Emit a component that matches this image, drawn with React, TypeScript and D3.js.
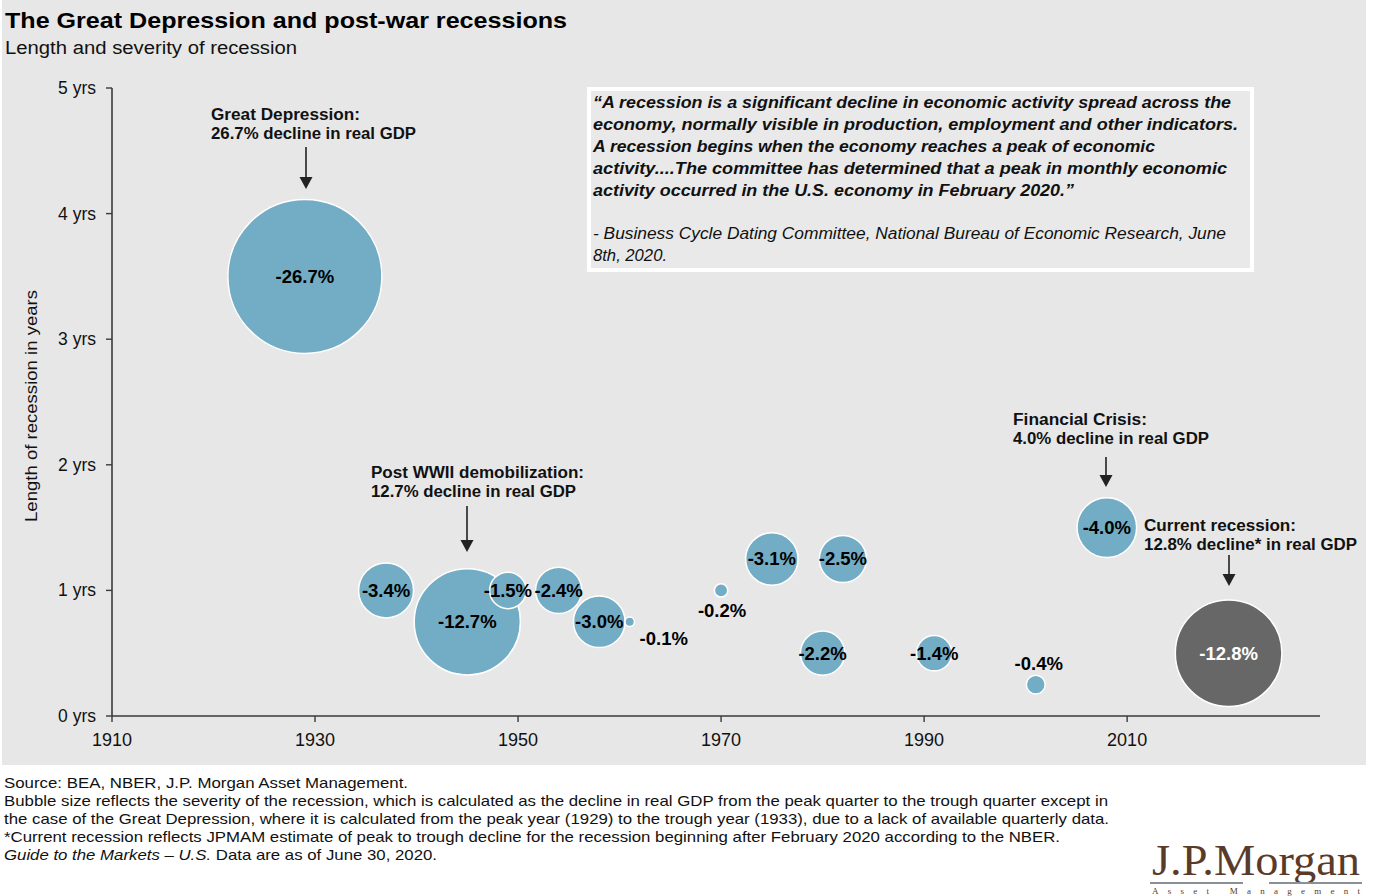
import React from "react";
import * as d3 from "d3";

// ---- data ----
const years = [1929, 1937, 1945, 1949, 1954, 1958, 1961, 1970, 1975, 1980, 1982, 1991, 2001, 2008, 2020];
const lengths = [3.5, 1, 0.75, 1, 1, 0.75, 0.75, 1, 1.25, 0.5, 1.25, 0.5, 0.25, 1.5, 0.5];
const declines = [26.7, 3.4, 12.7, 1.5, 2.4, 3.0, 0.1, 0.2, 3.1, 2.2, 2.5, 1.4, 0.4, 4.0, 12.8];
const currentYear = 2020;
const xTicks = [1910, 1930, 1950, 1970, 1990, 2010];
const yTicks = [0, 1, 2, 3, 4, 5];

const quoteLines = [
  "\u201CA recession is a significant decline in economic activity spread across the",
  "economy, normally visible in production, employment and other indicators.",
  "A recession begins when the economy reaches a peak of economic",
  "activity....The committee has determined that a peak in monthly economic",
  "activity occurred in the U.S. economy in February 2020.\u201D",
];
const quoteSource = [
  "- Business Cycle Dating Committee, National Bureau of Economic Research, June",
  "8th, 2020.",
];
const footnotes = [
  "Source: BEA, NBER, J.P. Morgan Asset Management.",
  "Bubble size reflects the severity of the recession, which is calculated as the decline in real GDP from the peak quarter to the trough quarter except in",
  "the case of the Great Depression, where it is calculated from the peak year (1929) to the trough year (1933), due to a lack of available quarterly data.",
  "*Current recession reflects JPMAM estimate of peak to trough decline for the recession beginning after February 2020 according to the NBER.",
];

const annotations = [
  { year: 1929, lines: ["Great Depression:", "26.7% decline in real GDP"] },
  { year: 1945, lines: ["Post WWII demobilization:", "12.7% decline in real GDP"] },
  { year: 2008, lines: ["Financial Crisis:", "4.0% decline in real GDP"] },
  { year: 2020, lines: ["Current recession:", "12.8% decline* in real GDP"] },
];

// ---- layout ----
const W = 1378;
const H = 896;
const FONT = "Liberation Sans, Arial, Helvetica, sans-serif";
const BG = "#e7e7e7";
const BLUE = "#73adc5";
const GREY_BUBBLE = "#676767";
const AXIS = "#3a3a3a";

const x = d3.scaleLinear().domain([1910, 2029]).range([112, 1320]);
const y = d3.scaleLinear().domain([0, 5]).range([716, 88]);
const r = d3.scaleSqrt().domain([0, 26.7]).range([0, 77]);

// label offsets for tiny bubbles (layout)
const labelOffsets: Record<number, [number, number]> = {
  1961: [34, 17],
  1970: [1, 20],
  2001: [3, -21],
};

// annotation layout: text x, baselines, arrow start/end
const annLayout: Record<number, { tx: number; ty: number; w: [number, number]; ax: number; a0: number; a1: number }> = {
  1929: { tx: 211, ty: 120, w: [149, 205], ax: 306, a0: 147, a1: 189 },
  1945: { tx: 371, ty: 478, w: [213, 205], ax: 467, a0: 506, a1: 552 },
  2008: { tx: 1013, ty: 425, w: [134, 196], ax: 1106, a0: 457, a1: 487 },
  2020: { tx: 1144, ty: 531, w: [152, 213], ax: 1229, a0: 555, a1: 586 },
};

const quoteWidths = [638, 645, 562, 634, 481];
const sourceWidths = [633, 74];
const footWidths = [404, 1104, 1105, 1056];

function Arrow({ ax, a0, a1 }: { ax: number; a0: number; a1: number }) {
  return (
    <g>
      <line x1={ax} x2={ax} y1={a0} y2={a1 - 10} stroke="#222" strokeWidth={1.6} />
      <path d={`M${ax - 6.5},${a1 - 12} L${ax + 6.5},${a1 - 12} L${ax},${a1} Z`} fill="#222" />
    </g>
  );
}

export default function App() {
  const data = years.map((yr, i) => ({ yr, len: lengths[i], dec: declines[i] }));
  return (
    <svg
      width={W}
      height={H}
      viewBox={`0 0 ${W} ${H}`}
      style={{ position: "absolute", left: 0, top: 0, background: "#fff" }}
      fontFamily={FONT}
    >
      <rect x={0} y={0} width={W} height={H} fill="#ffffff" />
      <rect x={2} y={0} width={1364} height={765} fill={BG} />

      {/* title */}
      <text x={5} y={28} fontSize={22} fontWeight="bold" fill="#000" textLength={562} lengthAdjust="spacingAndGlyphs">
        The Great Depression and post-war recessions
      </text>
      <text x={5} y={54} fontSize={18} fill="#111" textLength={292} lengthAdjust="spacingAndGlyphs">
        Length and severity of recession
      </text>

      {/* quote box */}
      <rect x={589} y={89} width={663} height={181} fill="#e9e9e9" stroke="#ffffff" strokeWidth={4} />
      {quoteLines.map((t, i) => (
        <text
          key={i}
          x={593}
          y={108 + i * 22}
          fontSize={16}
          fontWeight="bold"
          fontStyle="italic"
          fill="#111"
          textLength={quoteWidths[i]}
          lengthAdjust="spacingAndGlyphs"
        >
          {t}
        </text>
      ))}
      {quoteSource.map((t, i) => (
        <text
          key={i}
          x={593}
          y={239 + i * 22}
          fontSize={16}
          fontStyle="italic"
          fill="#111"
          textLength={sourceWidths[i]}
          lengthAdjust="spacingAndGlyphs"
        >
          {t}
        </text>
      ))}

      {/* axes */}
      <line x1={x(1910)} x2={1320} y1={y(0)} y2={y(0)} stroke={AXIS} strokeWidth={1.6} />
      <line x1={x(1910)} x2={x(1910)} y1={y(0)} y2={y(5)} stroke={AXIS} strokeWidth={1.6} />
      {yTicks.map((t) => (
        <g key={t}>
          <line x1={x(1910) - 6} x2={x(1910)} y1={y(t)} y2={y(t)} stroke={AXIS} strokeWidth={1.4} />
          <text x={96} y={y(t) + 6} fontSize={17.5} textAnchor="end" fill="#111">
            {`${t} yrs`}
          </text>
        </g>
      ))}
      {xTicks.map((t) => (
        <g key={t}>
          <line x1={x(t)} x2={x(t)} y1={y(0)} y2={y(0) + 6} stroke={AXIS} strokeWidth={1.4} />
          <text x={x(t)} y={746} fontSize={18} textAnchor="middle" fill="#111">
            {t}
          </text>
        </g>
      ))}
      <text
        transform={`translate(37,406) rotate(-90)`}
        fontSize={17}
        textAnchor="middle"
        fill="#111"
        textLength={232}
        lengthAdjust="spacingAndGlyphs"
      >
        Length of recession in years
      </text>

      {/* bubbles */}
      {data.map((d) => (
        <circle
          key={d.yr}
          cx={x(d.yr)}
          cy={y(d.len)}
          r={r(d.dec)}
          fill={d.yr === currentYear ? GREY_BUBBLE : BLUE}
          stroke="#ffffff"
          strokeWidth={1.5}
        />
      ))}
      {data.map((d) => {
        const off = labelOffsets[d.yr] || [0, 0];
        return (
          <text
            key={d.yr}
            x={x(d.yr) + off[0]}
            y={y(d.len) + off[1]}
            dy="0.35em"
            fontSize={18.5}
            fontWeight="bold"
            textAnchor="middle"
            fill={d.yr === currentYear ? "#ffffff" : "#000"}
          >
            {`-${d.dec.toFixed(1)}%`}
          </text>
        );
      })}

      {/* annotations */}
      {annotations.map((a) => {
        const L = annLayout[a.year];
        return (
          <g key={a.year}>
            {a.lines.map((t, i) => (
              <text
                key={i}
                x={L.tx}
                y={L.ty + i * 19}
                fontSize={16}
                fontWeight="bold"
                fill="#111"
                textLength={L.w[i]}
                lengthAdjust="spacingAndGlyphs"
              >
                {t}
              </text>
            ))}
            <Arrow ax={L.ax} a0={L.a0} a1={L.a1} />
          </g>
        );
      })}

      {/* footnotes */}
      {footnotes.map((t, i) => (
        <text
          key={i}
          x={4}
          y={788 + i * 18}
          fontSize={15}
          fill="#111"
          textLength={footWidths[i]}
          lengthAdjust="spacingAndGlyphs"
        >
          {t}
        </text>
      ))}
      <text x={4} y={860} fontSize={15} fill="#111" textLength={433} lengthAdjust="spacingAndGlyphs">
        <tspan fontStyle="italic">Guide to the Markets – U.S.</tspan>
        <tspan> Data are as of June 30, 2020.</tspan>
      </text>

      {/* logo */}
      <text
        x={1152}
        y={875}
        fontSize={45}
        fontFamily="Liberation Serif, Times New Roman, serif"
        fill="#5a3b2a"
        textLength={208}
        lengthAdjust="spacingAndGlyphs"
      >
        J.P.Morgan
      </text>
      <line x1={1150} x2={1243} y1={883} y2={883} stroke="#8a9098" strokeWidth={2} />
      <line x1={1269} x2={1362} y1={883} y2={883} stroke="#8a9098" strokeWidth={2} />
      <text
        x={1152}
        y={894}
        fontSize={9}
        fontFamily="Liberation Serif, Times New Roman, serif"
        fill="#5a3b2a"
        textLength={208}
        lengthAdjust="spacing"
      >
        Asset Management
      </text>
    </svg>
  );
}
